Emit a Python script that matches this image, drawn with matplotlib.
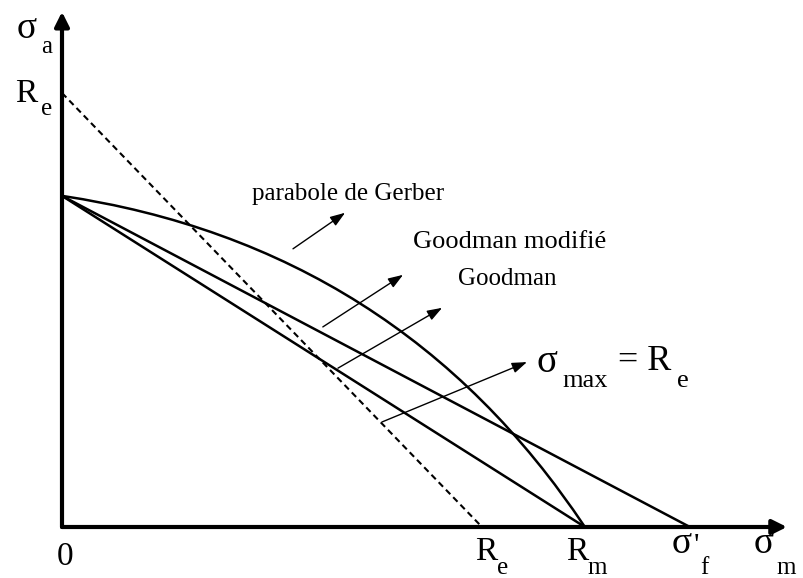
import matplotlib
matplotlib.use("Agg")
import matplotlib.pyplot as plt
from matplotlib.path import Path
from matplotlib.patches import PathPatch

plt.rcParams["font.family"] = ["Liberation Serif", "DejaVu Serif"]

# material values (arbitrary units, Re = 1)
sigma_D = 0.763     # endurance limit at zero mean stress
Re = 1.0            # yield strength
Rm = 1.245          # ultimate strength
sigma_f = 1.495     # true fracture strength

# control point of the Gerber parabola (quadratic Bezier from (0, sigma_D) to (Rm, 0))
gerber_ctrl = (0.80, 0.647)

# axis extent used for the arrows
x_end = 1.726
y_end = 1.187


def sub_label(ax, xy, base, sub, base_off, sub_off, size=24, subsize=18):
    ax.annotate(base, xy=xy, xytext=base_off, textcoords="offset pixels",
                fontsize=size, ha="left", va="baseline", annotation_clip=False)
    ax.annotate(sub, xy=xy, xytext=sub_off, textcoords="offset pixels",
                fontsize=subsize, ha="left", va="baseline", annotation_clip=False)


fig = plt.figure(figsize=(8.04, 5.78), dpi=100)
ax = fig.add_axes([0, 0, 1, 1])
ax.axis("off")
ax.set_xlim(-62 / 420, 742 / 420)
ax.set_ylim(-51 / 434, 527 / 434)

# axes with arrow heads
axis_style = "-|>,head_length=0.86,head_width=0.43"
ax.annotate("", xy=(x_end, 0), xytext=(0, 0),
            arrowprops=dict(arrowstyle=axis_style, lw=3, color="black",
                            mutation_scale=10, shrinkA=0, shrinkB=0))
ax.annotate("", xy=(0, y_end), xytext=(0, 0),
            arrowprops=dict(arrowstyle=axis_style, lw=3, color="black",
                            mutation_scale=10, shrinkA=0, shrinkB=0))

# criteria
gerber = Path([(0, sigma_D), gerber_ctrl, (Rm, 0)],
              [Path.MOVETO, Path.CURVE3, Path.CURVE3])
ax.add_patch(PathPatch(gerber, facecolor="none", edgecolor="black", lw=1.8))
ax.plot([0, Rm], [sigma_D, 0], color="black", lw=1.8)
ax.plot([0, sigma_f], [sigma_D, 0], color="black", lw=1.8)
ax.plot([0, Re], [Re, 0], color="black", lw=1.5, linestyle=(0, (3, 2)))

# pointer arrows and their labels
thin = dict(arrowstyle="-|>,head_length=0.9,head_width=0.32", lw=1.0,
            color="black", mutation_scale=10, shrinkA=0, shrinkB=0)
ax.annotate("", xy=(0.674, 0.724), xytext=(0.550, 0.641), arrowprops=thin)
ax.annotate("", xy=(0.812, 0.581), xytext=(0.621, 0.461), arrowprops=thin)
ax.annotate("", xy=(0.905, 0.505), xytext=(0.657, 0.366), arrowprops=thin)
ax.annotate("", xy=(1.107, 0.380), xytext=(0.762, 0.242), arrowprops=thin)

ax.text(0.452, 0.753, "parabole de Gerber", fontsize=18, va="baseline")
ax.text(0.836, 0.643, "Goodman modifié", fontsize=19, va="baseline")
ax.text(0.943, 0.558, "Goodman", fontsize=18, va="baseline")

smax_xy = (1.129, 0.357)
sub_label(ax, smax_xy, "σ", "max", (0, 0), (26, -15), size=28, subsize=19)
sub_label(ax, smax_xy, "= R", "e", (82, 2), (141, -15), size=26, subsize=19)

# axis labels
sub_label(ax, (0, y_end), "σ", "a", (-45, -26), (-21, -41), size=27)
sub_label(ax, (0, Re), "R", "e", (-47, -9), (-21, -22))
ax.annotate("0", xy=(0, 0), xytext=(-5, -38), textcoords="offset pixels",
            fontsize=24, ha="left", va="baseline")
sub_label(ax, (Re, 0), "R", "e", (-7, -33), (15, -47))
sub_label(ax, (Rm, 0), "R", "m", (-19, -33), (3, -47))
sub_label(ax, (sigma_f, 0), "σ", "f", (-18, -26), (10, -47), size=27)
ax.annotate("'", xy=(sigma_f, 0), xytext=(4, -28), textcoords="offset pixels",
            fontsize=22, ha="left", va="baseline")
sub_label(ax, (x_end, 0), "σ", "m", (-33, -26), (-10, -47), size=27)

fig.savefig("out.png", dpi=100)
